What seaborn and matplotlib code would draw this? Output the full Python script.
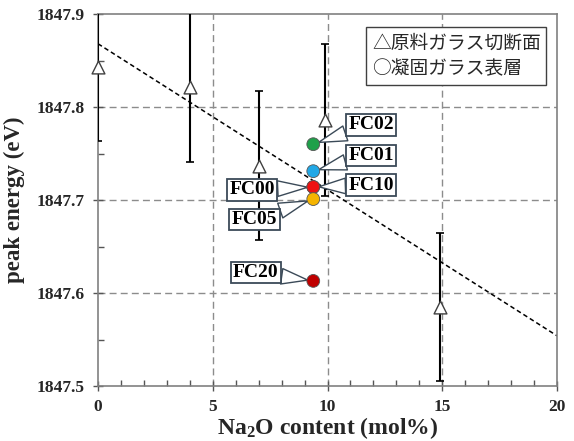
import matplotlib
matplotlib.use("Agg")
import matplotlib.pyplot as plt
import seaborn as sns
import pandas as pd
from matplotlib.ticker import MultipleLocator

# ---- data ----
raw_x = [0, 4, 7, 9.9, 14.9]
raw_y = [1847.843, 1847.821, 1847.737, 1847.786, 1847.585]
raw_err = [0.08, 0.08, 0.08, 0.082, 0.08]

fit_x = [0, 20]
fit_y = [1847.868, 1847.554]

fc_names = ["FC02", "FC01", "FC10", "FC00", "FC05", "FC20"]
fc_x = [9.38, 9.38, 9.38, 9.38, 9.38, 9.38]
fc_y = [1847.760, 1847.731, 1847.714, 1847.714, 1847.701, 1847.613]
fc_colors = ["#1fa04a", "#22a8e6", "#ee1111", "#ee1111", "#f5b400", "#c00000"]
label_x = [11.90, 11.90, 11.90, 6.71, 6.82, 6.88]
label_y = [1847.781, 1847.748, 1847.716, 1847.711, 1847.679, 1847.622]

legend_lines = ["△原料ガラス切断面", "○凝固ガラス表層"]

sns.set_theme(style="white")
plt.rcParams["font.family"] = ["Liberation Serif", "DejaVu Serif"]
plt.rcParams["font.weight"] = "bold"
plt.rcParams["mathtext.fontset"] = "custom"
plt.rcParams["mathtext.rm"] = "Liberation Serif:bold"
plt.rcParams["mathtext.it"] = "Liberation Serif:bold"
plt.rcParams["mathtext.bf"] = "Liberation Serif:bold"
plt.rcParams["mathtext.default"] = "rm"

fig = plt.figure(figsize=(5.74, 4.41), dpi=100)
ax = fig.add_axes([98/574, 1-386/441, (557-98)/574, (386-14)/441])

# grid
for gx in [5, 10, 15]:
    ax.axvline(gx, color="#8c8c8c", lw=1.0, ls=(0, (5, 3)), zorder=0)
for gy in [1847.6, 1847.7, 1847.8]:
    ax.axhline(gy, color="#8c8c8c", lw=1.0, ls=(0, (5, 3)), zorder=0)

# trend line
fit_df = pd.DataFrame({"x": fit_x, "y": fit_y})
sns.lineplot(data=fit_df, x="x", y="y", ax=ax, color="black", lw=1.1,
             linestyle=(0, (3, 2)), zorder=2)

# error bars
ax.errorbar(raw_x, raw_y, yerr=raw_err, fmt="none", ecolor="black",
            elinewidth=1.5, capsize=3, capthick=1.2, zorder=3)

raw_df = pd.DataFrame({"x": raw_x, "y": raw_y})
sns.scatterplot(data=raw_df, x="x", y="y", ax=ax, marker="^", s=85,
                facecolor="white", edgecolor="#404040", linewidth=1.0,
                zorder=4, clip_on=False)

# annotations
for name, x, y, lx, ly in zip(fc_names, fc_x, fc_y, label_x, label_y):
    ax.annotate(name, xy=(x, y), xytext=(lx, ly), ha="center", va="center",
                fontsize=14, fontweight="bold", color="black",
                bbox=dict(boxstyle="square,pad=0.12", fc="white", ec="#3b4a58", lw=1.3),
                arrowprops=dict(arrowstyle="wedge,tail_width=0.8,shrink_factor=0.5",
                                fc="white", ec="#3b4a58", lw=1.0, shrinkA=0, shrinkB=4),
                zorder=5)

fc_df = pd.DataFrame({"x": fc_x, "y": fc_y, "name": fc_names})
sns.scatterplot(data=fc_df, x="x", y="y", hue="name", palette=dict(zip(fc_names, fc_colors)),
                ax=ax, s=85, edgecolor="#555555", linewidth=0.6, legend=False, zorder=6)

ax.set_xlim(0, 20)
ax.set_ylim(1847.5, 1847.9)
ax.xaxis.set_major_locator(MultipleLocator(5))
ax.xaxis.set_minor_locator(MultipleLocator(1))
ax.yaxis.set_major_locator(MultipleLocator(0.1))
ax.yaxis.set_minor_locator(MultipleLocator(0.05))
ax.yaxis.set_major_formatter(matplotlib.ticker.FormatStrFormatter("%.1f"))

ax.tick_params(axis="both", which="major", direction="inout", length=7, width=1,
               color="#555555", labelsize=12.5)
ax.tick_params(axis="x", which="minor", direction="in", length=4, width=1, color="#555555")
ax.tick_params(axis="y", which="minor", direction="in", length=4, width=1, color="#555555")
ax.tick_params(axis="x", which="major", pad=6)
ax.tick_params(axis="y", which="major", pad=6)
ax.tick_params(bottom=True, left=True, which="both")

for s in ax.spines.values():
    s.set_color("#808080")
    s.set_linewidth(1.2)

ax.set_xlabel("Na$_2$O content (mol%)", fontsize=17, fontweight="bold", labelpad=0)
ax.set_ylabel("peak energy (eV)", fontsize=16.5, fontweight="bold", labelpad=8)

ax.text(0.597, 0.950, "\n".join(legend_lines), transform=ax.transAxes, ha="left", va="top",
        fontsize=13.5, fontweight="normal", family=["Noto Sans CJK JP", "DejaVu Sans"],
        linespacing=1.3,
        bbox=dict(boxstyle="square,pad=0.3", fc="white", ec="#404040", lw=1.0), zorder=7)

fig.savefig("out.png", dpi=100)
